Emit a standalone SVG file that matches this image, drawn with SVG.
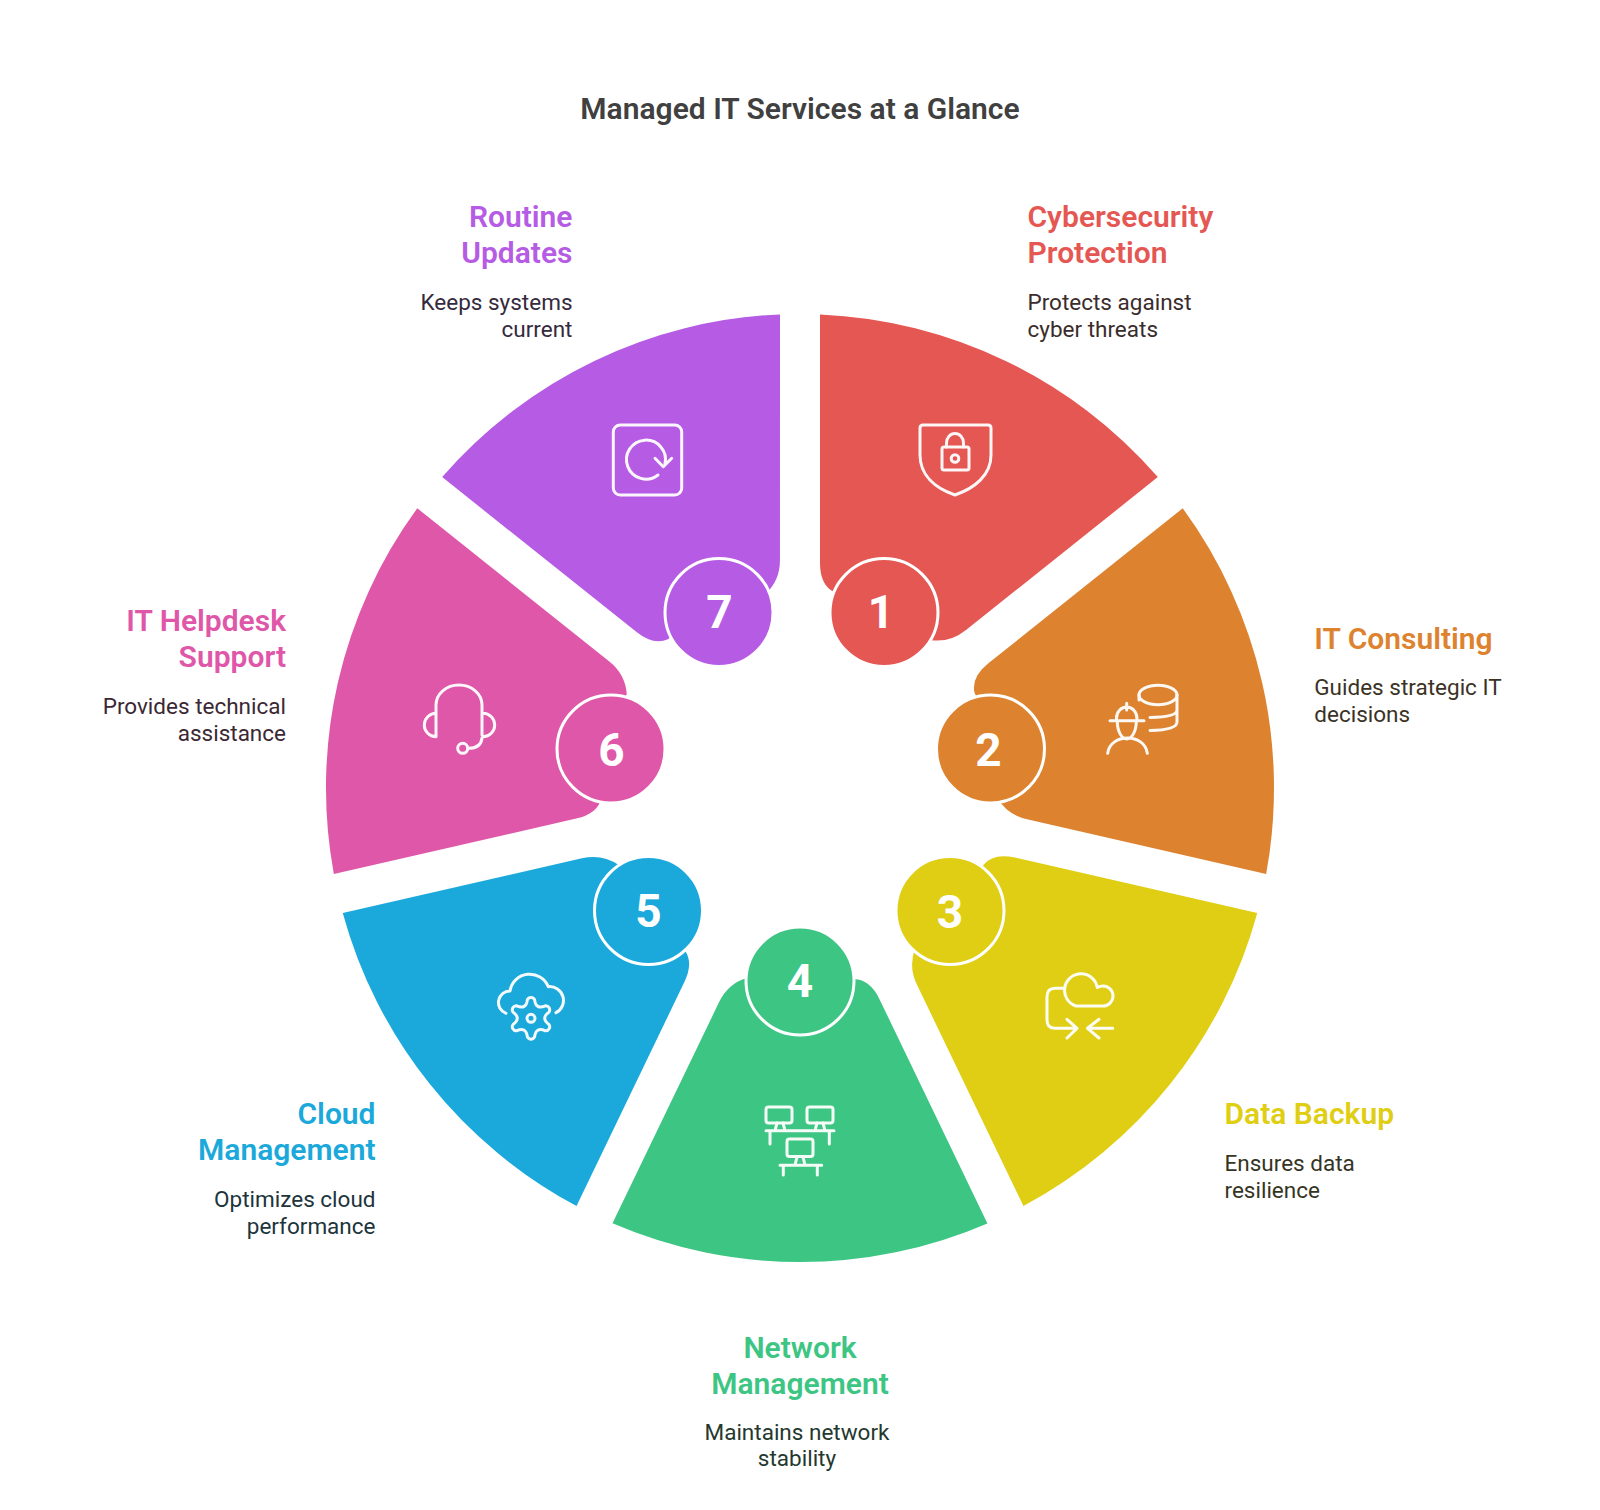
<svg xmlns="http://www.w3.org/2000/svg" width="1600" height="1510" viewBox="0 0 1600 1510">
<style>
text{font-family:Roboto,"Liberation Sans",sans-serif}
.title{font-size:30px;font-weight:600;fill:#404040}
.h{font-size:30px;font-weight:600}
.b{font-size:22.5px}
.e{text-anchor:end}.m{text-anchor:middle}
.n{font-size:46px;font-weight:700;fill:#fff;text-anchor:middle}
.bd{stroke:#fff;stroke-width:3}
.i{fill:none;stroke:#fff;stroke-width:3;stroke-linecap:round;stroke-linejoin:round;opacity:.95}
</style>
<defs>
<path id="w" d="M820,314.4A474,474 0 0 1 1157.8,477.1L966,630Q950,643 930,640A202,202 0 0 0 834,592Q820,585 820,563Z"/>
</defs>
<rect width="1600" height="1510" fill="#fff"/>
<text class="title" x="800" y="119" text-anchor="middle">Managed IT Services at a Glance</text>
<g id="connectors"/>
<g id="node1" fill="#3b2c2c">
<use href="#w" fill="#E55753"/>
<circle class="bd" cx="884" cy="612.5" r="54" fill="#E55753"/>
<text class="n" x="881" y="628">1</text>
<g class="i"><path d="M923,425H988Q991,425 991,428V455C991,475 975,488 955,495C935,488 920,475 920,455V428Q920,425 923,425Z"/><rect x="942" y="447" width="27" height="23" rx="2"/><path d="M946.5,447V443a8.5,9.5 0 0 1 17,0V447"/><circle cx="955" cy="458.5" r="3.8"/></g>
<text class="h" x="1027.5" y="226.5" fill="#E55753">Cybersecurity</text>
<text class="h" x="1027.5" y="263" fill="#E55753">Protection</text>
<text class="b" x="1027.5" y="310">Protects against</text>
<text class="b" x="1027.5" y="337">cyber threats</text>
</g>
<g id="node2" fill="#3b3226">
<use href="#w" fill="#DD8330" transform="rotate(51.43 800 788)"/>
<circle class="bd" cx="990.5" cy="749" r="54" fill="#DD8330"/>
<text class="n" x="988.5" y="766">2</text>
<g class="i"><path d="M1110,720.7H1144M1116.5,720.5V718a10.2,11 0 0 1 20.4,0V720.5M1126.7,703.3V710M1117.3,721C1117.3,732 1122,739 1126.7,739C1131.5,739 1136.3,732 1136.3,721M1107.7,753.3C1110,733 1145,733 1147.3,753.3"/><ellipse cx="1158" cy="695" rx="19" ry="9.7"/><path d="M1139,695V700M1177,695V722Q1177,730 1150,730.5M1177,710Q1177,717 1150,717.5"/></g>
<text class="h" x="1314.3" y="649" fill="#DD8330">IT Consulting</text>
<text class="b" x="1314.3" y="695">Guides strategic IT</text>
<text class="b" x="1314.3" y="721.5">decisions</text>
</g>
<g id="node3" fill="#35351f">
<use href="#w" fill="#DFCE13" transform="rotate(102.86 800 788)"/>
<circle class="bd" cx="950" cy="910.5" r="54" fill="#DFCE13"/>
<text class="n" x="950" y="927.5">3</text>
<g class="i"><path d="M1076,1006H1103A10,10 0 0 0 1103,986Q1100,986 1097.3,987.5A16.5,16.5 0 1 0 1076,1006ZM1063,988.3H1055Q1047,988.3 1047,997V1020Q1047,1028.3 1055,1028.3H1077L1067,1019.3M1077,1028.3L1067,1038M1112.7,1028.3H1087.5L1099,1019.3M1087.5,1028.3L1099,1038"/></g>
<text class="h" x="1224.5" y="1123.5" fill="#DFCE13">Data Backup</text>
<text class="b" x="1224.5" y="1170.5">Ensures data</text>
<text class="b" x="1224.5" y="1198">resilience</text>
</g>
<g id="node4" fill="#24382e">
<use href="#w" fill="#3DC583" transform="rotate(154.29 800 788)"/>
<circle class="bd" cx="800" cy="981" r="54" fill="#3DC583"/>
<text class="n" x="800" y="997">4</text>
<g class="i"><rect x="766" y="1107" width="26" height="16" rx="2.5"/><rect x="807" y="1107" width="26" height="16" rx="2.5"/><rect x="787" y="1139" width="26" height="17.5" rx="2.5"/><path d="M766,1130.7H834M770,1131V1144M829.3,1131V1144M780,1165.3H821.7M783.3,1165.3V1175M817.3,1165.3V1175M777,1123L775,1130.7M783,1123L785,1130.7M817,1123L815,1130.7M823,1123L825,1130.7M797,1157L795,1165M803,1157L805,1165"/></g>
<text class="h m" x="800" y="1357.5" fill="#3DC583">Network</text>
<text class="h m" x="800" y="1394" fill="#3DC583">Management</text>
<text class="b m" x="797" y="1440">Maintains network</text>
<text class="b m" x="797" y="1466">stability</text>
</g>
<g id="node5" fill="#20343c">
<use href="#w" fill="#1BA9DB" transform="rotate(205.71 800 788)"/>
<circle class="bd" cx="648.5" cy="910.5" r="54" fill="#1BA9DB"/>
<text class="n" x="648.5" y="927">5</text>
<g class="i"><path d="M506,1013.3A11.5,11.5 0 0 1 510,991A20,20 0 0 1 548.3,986.7A13.8,13.8 0 0 1 556,1012.7"/><path transform="translate(531,1018.3)" d="M-3.6,-18.65A4,4 0 0 1 3.6,-18.65Q4.75,-8.23 14.34,-12.47A4,4 0 0 1 17.96,-6.19Q9.5,0 17.96,6.19A4,4 0 0 1 14.34,12.47Q4.75,8.23 3.6,18.65A4,4 0 0 1 -3.6,18.65Q-4.75,8.23 -14.34,12.47A4,4 0 0 1 -17.96,6.19Q-9.5,0 -17.96,-6.19A4,4 0 0 1 -14.34,-12.47Q-4.75,-8.23 -3.6,-18.65Z"/><circle cx="531" cy="1018.3" r="4"/></g>
<text class="h e" x="375.5" y="1123.5" fill="#1BA9DB">Cloud</text>
<text class="h e" x="375.5" y="1160" fill="#1BA9DB">Management</text>
<text class="b e" x="375.5" y="1207">Optimizes cloud</text>
<text class="b e" x="375.5" y="1234">performance</text>
</g>
<g id="node6" fill="#3b2834">
<use href="#w" fill="#DF57A8" transform="rotate(257.14 800 788)"/>
<circle class="bd" cx="611" cy="749" r="54" fill="#DF57A8"/>
<text class="n" x="611.5" y="766">6</text>
<g class="i"><path d="M436,736.7V705A23,20 0 0 1 482,705V735M436,713.3A11.7,11.7 0 0 0 436,736.7M483,713.3A11.7,11.7 0 0 1 483,736.7M482,738Q481,748.3 468.3,748.3"/><circle cx="462.7" cy="748.3" r="5"/></g>
<text class="h e" x="286" y="630.6" fill="#DF57A8">IT Helpdesk</text>
<text class="h e" x="286" y="667" fill="#DF57A8">Support</text>
<text class="b e" x="286" y="714">Provides technical</text>
<text class="b e" x="286" y="741">assistance</text>
</g>
<g id="node7" fill="#352a3d">
<use href="#w" fill="#B65CE4" transform="rotate(308.57 800 788)"/>
<circle class="bd" cx="719" cy="612.5" r="54" fill="#B65CE4"/>
<text class="n" x="719.5" y="628">7</text>
<g class="i"><rect x="613.3" y="425" width="68.4" height="70" rx="7"/><path d="M665,464A19.5,19.5 0 1 0 658,475M655,458.3L663.3,466.7L671.7,458.3"/></g>
<text class="h e" x="572.5" y="226.5" fill="#B65CE4">Routine</text>
<text class="h e" x="572.5" y="263" fill="#B65CE4">Updates</text>
<text class="b e" x="572.5" y="310">Keeps systems</text>
<text class="b e" x="572.5" y="337">current</text>
</g>
</svg>
